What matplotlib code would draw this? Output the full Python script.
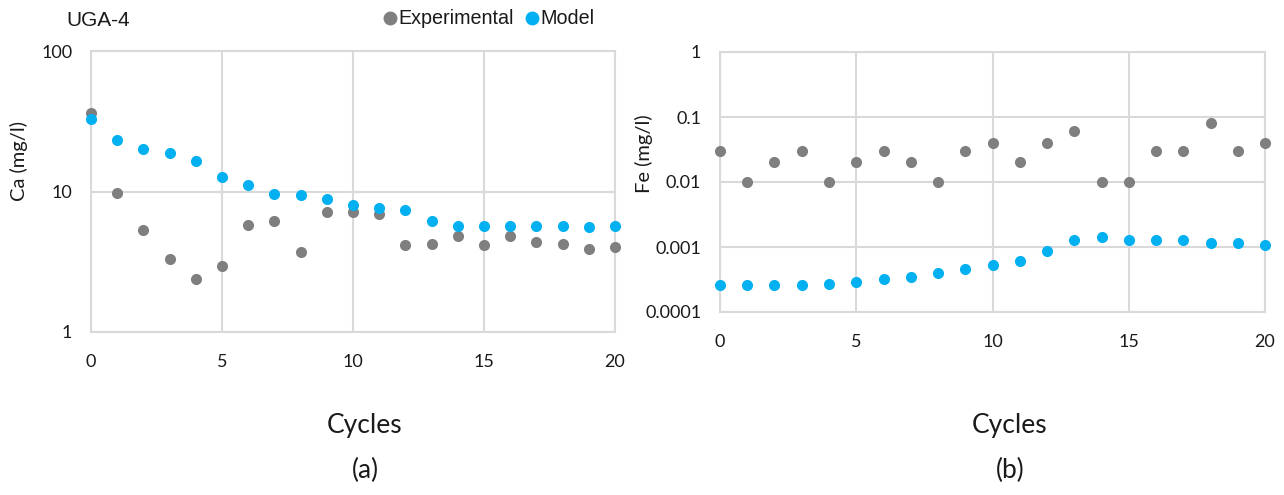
import matplotlib
matplotlib.use("Agg")
import matplotlib.pyplot as plt
from matplotlib.lines import Line2D

cycles = list(range(21))
ca_experimental = [36, 9.7, 5.3, 3.3, 2.4, 2.95, 5.75, 6.2, 3.7, 7.1, 7.2, 6.9,
                   4.15, 4.2, 4.85, 4.15, 4.85, 4.35, 4.2, 3.9, 4.0]
ca_model = [32.9, 23.1, 20.0, 18.7, 16.6, 12.7, 11.1, 9.6, 9.45, 8.85, 7.95, 7.6,
            7.35, 6.15, 5.7, 5.72, 5.7, 5.67, 5.67, 5.56, 5.67]
fe_experimental = [0.03, 0.01, 0.02, 0.03, 0.01, 0.02, 0.03, 0.02, 0.01, 0.03, 0.04,
                   0.02, 0.04, 0.06, 0.01, 0.01, 0.03, 0.03, 0.08, 0.03, 0.04]
fe_model = [0.000257, 0.000257, 0.000257, 0.000257, 0.000267, 0.000286, 0.000318,
            0.00035, 0.000398, 0.000459, 0.000535, 0.000616, 0.000858, 0.0013,
            0.00143, 0.0013, 0.00127, 0.00127, 0.00117, 0.00114, 0.00109]
x_ticks = [0, 5, 10, 15, 20]
ca_ticks = [1, 10, 100]
ca_tick_labels = ["1", "10", "100"]
fe_ticks = [0.0001, 0.001, 0.01, 0.1, 1]
fe_tick_labels = ["0.0001", "0.001", "0.01", "0.1", "1"]

GRAY = "#7f7f7f"
BLUE = "#00b0f0"
GRID = "#d9d9d9"
TEXT = "#1a1a1a"
TICKFONT = "Lato"
SANS = ["Liberation Sans", "DejaVu Sans"]

fig = plt.figure(figsize=(12.84, 4.95), dpi=100)
W, H = 1284, 495

def axes_px(x0, y0, x1, y1):
    return fig.add_axes([x0 / W, 1 - y1 / H, (x1 - x0) / W, (y1 - y0) / H])

ax1 = axes_px(91, 51, 615, 332)
ax2 = axes_px(720, 52, 1265, 312)

def style(ax, yticks, ylabels, ylabel, xpad, label_xy):
    ax.set_yscale("log")
    ax.set_xlim(0, 20)
    ax.set_xticks(x_ticks)
    ax.set_xticklabels([str(t) for t in x_ticks], fontsize=13, family=TICKFONT, color=TEXT)
    ax.set_yticks(yticks)
    ax.set_yticklabels(ylabels, fontsize=13, family=TICKFONT, color=TEXT)
    ax.yaxis.set_minor_locator(matplotlib.ticker.NullLocator())
    ax.set_ylim(yticks[0], yticks[-1])
    ax.tick_params(length=0)
    ax.tick_params(axis="y", pad=13.5)
    ax.tick_params(axis="x", pad=xpad)
    ax.grid(True, color=GRID, linewidth=1.5)
    ax.set_axisbelow(True)
    for s in ax.spines.values():
        s.set_color(GRID)
        s.set_linewidth(1.5)
    ax.set_ylabel(ylabel, fontsize=14.5, family=TICKFONT, color=TEXT)
    ax.yaxis.set_label_coords(*label_xy)

style(ax1, ca_ticks, ca_tick_labels, "Ca (mg/l)", 16, (-0.120, 0.609))
style(ax2, fe_ticks, fe_tick_labels, "Fe (mg/l)", 16, (-0.123, 0.608))

ms = 64
ax1.scatter(cycles, ca_experimental, s=ms, color=GRAY, zorder=3, clip_on=False, linewidths=0)
ax1.scatter(cycles, ca_model, s=ms, color=BLUE, zorder=4, clip_on=False, linewidths=0)
ax2.scatter(cycles, fe_experimental, s=ms, color=GRAY, zorder=3, clip_on=False, linewidths=0)
ax2.scatter(cycles, fe_model, s=ms, color=BLUE, zorder=4, clip_on=False, linewidths=0)

fig.text(66 / W, 1 - 20 / H, "UGA-4", fontsize=15, family=SANS, va="center", ha="left", color=TEXT)

handles = [Line2D([], [], marker="o", linestyle="none", color=GRAY, markersize=9),
           Line2D([], [], marker="o", linestyle="none", color=BLUE, markersize=9)]
fig.legend(handles, ["Experimental", "Model"], loc="center left",
           bbox_to_anchor=(378 / W, 1 - 19 / H), ncol=2, frameon=False,
           handletextpad=-0.15, columnspacing=0.3, handlelength=1.2,
           borderpad=0, borderaxespad=0, labelcolor=TEXT,
           prop={"family": SANS, "size": 14.2})

for cx in (365, 1010):
    fig.text(cx / W, 1 - 425 / H, "Cycles", fontsize=19, family=TICKFONT, ha="center", va="center", color=TEXT)
fig.text(365 / W, 1 - 470 / H, "(a)", fontsize=19, family=TICKFONT, ha="center", va="center", color=TEXT)
fig.text(1010 / W, 1 - 470 / H, "(b)", fontsize=19, family=TICKFONT, ha="center", va="center", color=TEXT)

fig.savefig("out.png", dpi=100, facecolor="white")
